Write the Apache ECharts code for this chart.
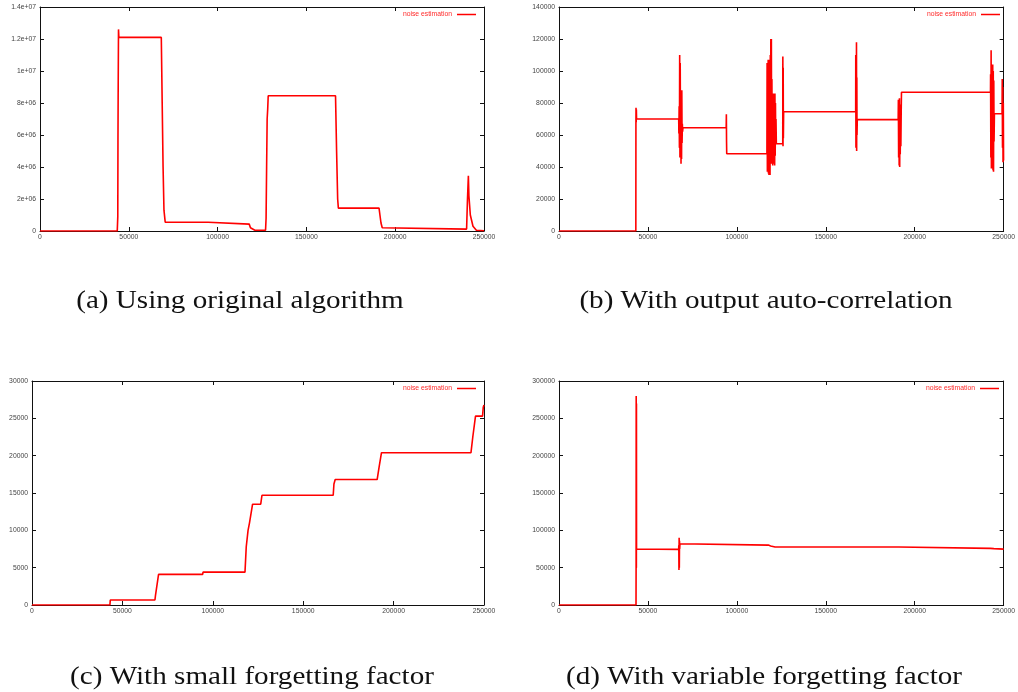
<!DOCTYPE html>
<html>
<head>
<meta charset="utf-8">
<script src="https://cdn.jsdelivr.net/npm/echarts@6/dist/echarts.min.js"></script>
<style>
  html, body { margin: 0; padding: 0; background: #fff; }
  #chart { width: 1018px; height: 692px; }
</style>
</head>
<body>
<div id="chart"></div>
<script>
// Shared x ticks (sample index)
const xTicks = ['0', '50000', '100000', '150000', '200000', '250000'];

// (a) original algorithm
const aTicks = ['0', '2e+06', '4e+06', '6e+06', '8e+06', '1e+07', '1.2e+07', '1.4e+07'];
const aX = [0, 43500, 43800, 43900, 44000, 44200, 44400, 68300, 68800, 69300, 69800, 70500,
  94700, 94900, 117800, 118500, 119500, 121000, 127000, 127300, 127600, 127900, 128200, 128500,
  166400, 167000, 167600, 168000, 190900, 191400, 192000, 192700, 193500, 240200, 240700, 241200,
  241500, 242300, 243800, 245700, 250000];
const aY = [0, 0, 0.9e6, 5.6e6, 8.3e6, 1.26e7, 1.21e7, 1.21e7, 8e6, 4e6, 1.3e6, 0.55e6,
  0.55e6, 0.43e6, 0.43e6, 0.2e6, 0.08e6, 0.05e6, 0.05e6, 0.8e6, 4e6, 7e6, 7.6e6, 8.45e6,
  8.45e6, 5e6, 2e6, 1.43e6, 1.43e6, 1.0e6, 0.5e6, 0.2e6, 0.12e6, 0.12e6, 2.0e6, 3.45e6,
  2.2e6, 1.0e6, 0.3e6, 0.05e6, 0.02e6];

// (b) output auto-correlation
const bTicks = ['0', '20000', '40000', '60000', '80000', '100000', '120000', '140000'];
const bX = [0, 43200, 43250, 43300, 43400, 43500, 43600,
  67300, 67400, 67550, 67700, 67850, 68000, 68150, 68300, 68450, 68600, 68750, 68900, 69050, 69200, 69350, 69500, 69700,
  94000, 94100, 94200, 94300,
  116900, 117000, 117150, 117300, 117450, 117600, 117750, 117900, 118050, 118200, 118350, 118500, 118650, 118800,
  118950, 119100, 119250, 119400, 119550, 119700, 119850, 120000, 120150, 120300, 120450, 120600, 120750, 120900,
  121100, 121250, 121400, 121550, 121700, 121850, 122000, 122200,
  125800, 125850, 125950, 126050, 126150, 126300,
  166800, 166850, 166950, 167050, 167150, 167250, 167350, 167450, 167550, 167700,
  190700, 190800, 190950, 191100, 191250, 191400, 191550, 191700, 191850, 192000, 192200, 192400, 192550,
  242600, 242650, 242800, 242950, 243100, 243250, 243400, 243550, 243700, 243850, 244000, 244150, 244300, 244450, 244600, 244800,
  249100, 249200, 249350, 249500, 249650, 249800, 249950];
const bY = [0, 0, 67000, 77000, 68000, 76000, 70000,
  70000, 61000, 78000, 52000, 110000, 46000, 105000, 60000, 88000, 42000, 83000, 45000, 88000, 55000, 67000, 62000, 64500,
  64500, 73000, 56000, 48300,
  48300, 105000, 37000, 104000, 42000, 107000, 36000, 100000, 35000, 107000, 40000, 94000, 35000, 110000,
  45000, 120000, 53000, 120000, 42000, 95000, 60000, 85000, 41000, 86000, 42000, 75000, 52000, 65000,
  86000, 41000, 86000, 47000, 80000, 55000, 70000, 54500,
  54500, 109000, 53000, 102000, 58000, 74500,
  74500, 110000, 52000, 108000, 53000, 118000, 50000, 96000, 60000, 69600,
  69600, 82000, 46000, 80000, 41000, 83000, 40000, 79000, 48000, 70000, 53000, 75000, 86700,
  86700, 98000, 46000, 113000, 39000, 102000, 47000, 103000, 44000, 104000, 38000, 100000, 37000, 94000, 56000, 73300,
  73300, 95000, 52000, 90000, 43000, 80000, 44000];

// (c) small forgetting factor
const cTicks = ['0', '5000', '10000', '15000', '20000', '25000', '30000'];
const cX = [0, 43100, 43300, 68000, 68300, 69300, 70000, 94400, 94600, 117800, 118500, 119500, 120300,
  121000, 122000, 126500, 127200, 166600, 167000, 167700, 190900, 192000, 193300, 242800, 243800,
  245300, 249200, 249600, 250000];
const cY = [0, 0, 670, 670, 1300, 1300, 4100, 4100, 4400, 4400, 7800, 10000, 11000,
  11200, 13500, 13500, 14700, 14700, 16200, 16800, 16800, 18500, 20400, 20400, 22500,
  25300, 25300, 26500, 26800];

// (d) variable forgetting factor
const dTicks = ['0', '50000', '100000', '150000', '200000', '250000', '300000'];
const dX = [0, 43300, 43350, 43400, 43500, 43550, 43600, 43700, 67300, 67350, 67450, 67550, 67650,
  67750, 67850, 68000, 68500, 117700, 119000, 121500, 191000, 192000, 242500, 243500, 244500,
  245500, 250000];
const dY = [0, 0, 50000, 280000, 50000, 270000, 75000, 74500, 74500, 80000, 47000, 90000, 50000,
  86000, 75000, 82000, 80200, 80200, 79000, 77600, 77600, 75800, 75800, 75200, 75500,
  74800, 74800];

const seriesName = 'noise estimation';
const captions = [
  '(a) Using original algorithm',
  '(b) With output auto-correlation',
  '(c) With small forgetting factor',
  '(d) With variable forgetting factor'
];

const zip = (xs, ys) => xs.map((x, i) => [x, ys[i]]);

const panels = [
  { grid: { left: 40, top: 7, width: 444, height: 224 }, yMax: 1.4e7, yStep: 2e6, ticks: aTicks, data: zip(aX, aY), cap: [240, 301] },
  { grid: { left: 559, top: 7, width: 449, height: 224 }, yMax: 140000, yStep: 20000, ticks: bTicks, data: zip(bX, bY), cap: [766, 301] },
  { grid: { left: 32, top: 381, width: 452, height: 224 }, yMax: 30000, yStep: 5000, ticks: cTicks, data: zip(cX, cY), cap: [252, 677] },
  { grid: { left: 559, top: 381, width: 448, height: 224 }, yMax: 300000, yStep: 50000, ticks: dTicks, data: zip(dX, dY), cap: [764, 677] }
];

const tickFont = { fontFamily: 'Liberation Sans, Arial, sans-serif', fontSize: 6.8, color: '#444' };
const axisLine = { show: true, onZero: false, lineStyle: { color: '#111', width: 1 } };
const axisTick = { show: true, inside: true, length: 4, lineStyle: { color: '#111', width: 1 } };

const grids = [], xAxes = [], yAxes = [], series = [], legends = [], graphics = [];

panels.forEach((p, i) => {
  grids.push(Object.assign({ containLabel: false }, p.grid));
  const xBase = { type: 'value', gridIndex: i, min: 0, max: 250000, interval: 50000,
    splitLine: { show: false }, axisLine, axisTick };
  xAxes.push(Object.assign({}, xBase, { position: 'bottom',
    axisLabel: Object.assign({ margin: 3, formatter: v => xTicks[Math.round(v / 50000)] }, tickFont) }));
  xAxes.push(Object.assign({}, xBase, { position: 'top', axisLabel: { show: false } }));
  const yBase = { type: 'value', gridIndex: i, min: 0, max: p.yMax, interval: p.yStep,
    splitLine: { show: false }, axisLine, axisTick };
  yAxes.push(Object.assign({}, yBase, { position: 'left',
    axisLabel: Object.assign({ margin: 4, formatter: v => p.ticks[Math.round(v / p.yStep)] }, tickFont) }));
  yAxes.push(Object.assign({}, yBase, { position: 'right', axisLabel: { show: false } }));

  series.push({
    type: 'line', name: seriesName, xAxisIndex: i * 2, yAxisIndex: i * 2,
    data: p.data, showSymbol: false, symbol: 'none', animation: false,
    lineStyle: { color: '#ff0000', width: 1.6 }, itemStyle: { color: '#ff0000' }
  });

  legends.push({
    data: [seriesName], right: 1018 - (p.grid.left + p.grid.width) + 8, top: p.grid.top + 4,
    align: 'right', icon: 'rect', itemWidth: 19, itemHeight: 1.5, padding: 0, selectedMode: false,
    textStyle: { color: '#ff2a2a', fontSize: 6.8, fontFamily: 'Liberation Sans, Arial, sans-serif' }
  });

  // captions below each panel, widened slightly to the book face proportions
  graphics.push({
    type: 'text', x: p.cap[0], y: p.cap[1], scaleX: 1.12,
    style: { text: captions[i], fill: '#111', font: '26px "Liberation Serif", "DejaVu Serif", serif',
      textAlign: 'center', textVerticalAlign: 'middle' }
  });
});

const chart = echarts.init(document.getElementById('chart'), null, { renderer: 'canvas' });
chart.setOption({
  animation: false,
  backgroundColor: '#fff',
  grid: grids, xAxis: xAxes, yAxis: yAxes, series, legend: legends, graphic: graphics
});
</script>
</body>
</html>
